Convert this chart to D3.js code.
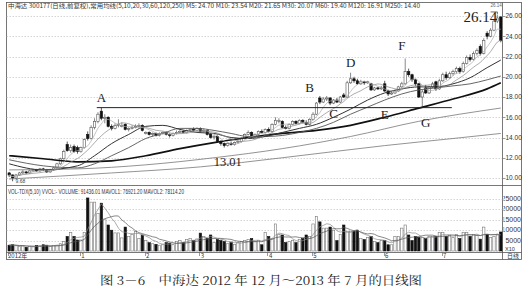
<!DOCTYPE html>
<html>
<head>
<meta charset="utf-8">
<script src="https://cdn.jsdelivr.net/npm/d3@7"></script>
<style>
  body { margin: 0; background: #fff; }
  svg { display: block; }
</style>
</head>
<body>
<div id="chart"></div>
<script>
// 中海达 300177 daily candles, Dec 2012 - Jul 2013
const opens = [
  10.5,10.3,10.0,10.3,10.5,10.6,10.5,10.7,10.8,10.7,
  10.9,10.8,10.6,10.8,11.0,11.4,11.9,13.3,12.7,13.1,
  13.0,12.6,13.0,14.3,13.9,15.0,15.6,16.6,15.9,16.0,
  15.1,14.9,15.2,15.1,15.3,14.8,14.9,15.0,15.1,15.2,
  14.4,14.5,14.3,14.4,14.2,14.4,14.5,14.3,14.2,14.4,
  14.5,14.6,14.5,14.7,14.8,14.7,14.9,14.6,14.7,14.3,
  14.0,14.1,13.6,13.4,13.2,13.4,13.3,13.5,13.6,13.9,
  14.3,14.5,14.1,14.3,14.6,14.5,14.8,14.6,15.3,15.6,
  15.6,15.0,14.9,15.3,15.6,15.4,15.7,15.5,15.3,15.8,
  16.3,17.9,17.5,17.8,17.9,17.4,17.7,17.5,18.2,18.0,
  19.4,19.8,19.6,19.3,19.5,19.4,19.3,18.7,18.9,18.8,
  19.3,18.6,18.3,18.4,18.6,19.0,19.3,20.5,20.2,19.7,
  19.3,18.0,18.9,18.4,19.0,19.5,18.8,19.6,20.2,19.9,
  20.3,20.5,20.8,20.5,21.3,21.9,21.7,22.3,23.0,22.3,
  24.3,24.0,24.6,25.5,25.9
];
const highs = [
  10.6,10.35,10.4,10.6,10.8,10.7,10.8,10.9,10.9,11.0,
  11.0,10.9,10.9,11.1,11.5,12.0,12.8,13.6,13.3,13.3,
  13.2,13.1,13.9,14.6,15.2,15.9,16.5,16.95,16.3,16.1,
  15.3,15.4,15.8,15.5,15.4,15.0,15.2,15.3,15.4,15.3,
  14.6,14.6,14.5,14.5,14.5,14.6,14.6,14.4,14.5,14.7,
  14.8,14.7,14.8,14.9,15.0,15.0,15.0,14.9,14.8,14.4,
  14.3,14.2,13.7,13.5,13.5,13.6,13.6,13.8,14.0,14.4,
  14.7,14.6,14.4,14.7,14.8,14.9,15.0,15.4,16.0,15.9,
  15.7,15.2,15.4,15.7,15.7,15.8,15.8,15.7,15.9,16.5,
  17.5,18.1,18.0,18.1,18.0,17.8,17.9,18.1,18.4,19.6,
  20.4,20.0,19.8,19.7,19.6,19.6,19.4,19.0,19.0,19.1,
  19.6,18.7,18.6,18.7,19.1,19.5,21.8,20.8,20.3,19.8,
  19.4,18.7,19.2,19.1,19.5,19.6,19.8,20.4,20.5,20.5,
  20.7,21.0,21.0,21.5,22.1,22.2,22.5,22.8,23.2,23.8,
  24.5,24.8,25.6,26.14,26.0
];
const lows = [
  10.1,9.68,9.9,10.2,10.4,10.4,10.4,10.6,10.6,10.6,
  10.7,10.5,10.5,10.7,10.9,11.3,11.8,12.6,12.5,12.5,
  12.4,12.5,12.9,13.7,13.8,14.8,15.4,15.7,15.4,15.0,
  14.7,14.8,15.0,15.0,14.7,14.6,14.8,14.9,15.0,14.6,
  14.3,14.2,14.1,14.1,14.1,14.3,14.2,14.0,14.1,14.3,
  14.4,14.4,14.4,14.6,14.6,14.6,14.5,14.5,14.2,13.9,
  13.8,13.5,13.2,13.01,13.1,13.2,13.2,13.4,13.5,13.8,
  14.2,14.0,14.0,14.2,14.4,14.4,14.5,14.5,15.2,15.4,
  14.9,14.8,14.8,15.2,15.3,15.3,15.4,15.2,15.2,15.7,
  16.2,17.3,17.4,17.6,17.2,17.3,17.4,17.4,17.9,17.9,
  19.3,19.4,19.2,19.2,19.2,19.3,18.6,18.6,18.7,18.7,
  18.5,18.1,18.2,18.3,18.5,18.9,19.2,20.0,19.5,19.1,
  17.9,17.0,18.3,18.3,18.9,18.6,18.7,19.5,19.7,19.8,
  20.1,20.3,20.3,20.4,21.2,21.5,21.6,22.1,22.1,22.2,
  23.7,23.9,24.5,25.3,23.4
];
const closes = [
  10.3,10.0,10.3,10.5,10.6,10.5,10.7,10.8,10.7,10.9,
  10.8,10.6,10.8,11.0,11.4,11.9,12.6,12.7,13.0,12.6,
  12.6,13.0,13.8,13.9,15.0,15.6,16.3,15.9,16.0,15.1,
  14.9,15.2,15.3,15.2,14.8,14.9,15.0,15.1,15.2,14.7,
  14.5,14.3,14.4,14.2,14.4,14.5,14.3,14.2,14.4,14.5,
  14.6,14.5,14.7,14.8,14.7,14.9,14.6,14.7,14.3,14.0,
  14.1,13.6,13.4,13.2,13.4,13.3,13.5,13.6,13.9,14.3,
  14.5,14.1,14.3,14.6,14.5,14.8,14.6,15.3,15.7,15.7,
  15.0,14.9,15.3,15.6,15.4,15.7,15.5,15.3,15.8,16.3,
  17.4,17.5,17.8,17.9,17.4,17.7,17.5,18.0,18.0,19.4,
  19.8,19.6,19.3,19.5,19.4,19.5,18.7,18.9,18.8,18.9,
  18.6,18.3,18.4,18.6,19.0,19.3,20.5,20.2,19.7,19.3,
  18.0,18.5,18.4,19.0,19.3,18.8,19.6,20.2,19.9,20.3,
  20.5,20.8,20.5,21.3,21.9,21.7,22.3,22.6,22.3,23.6,
  24.0,24.6,25.5,25.8,23.6
];
const volumes = [
  28000,30000,25000,22000,24000,18000,22000,20000,26000,24000,
  30000,28000,22000,26000,28000,35000,45000,70000,88000,70000,
  53000,53000,90000,255000,235000,235000,180000,230000,150000,125000,
  100000,87000,87000,63000,115000,70000,80000,95000,60000,77000,
  50000,40000,35000,32000,28000,30000,40000,38000,30000,45000,
  50000,42000,55000,60000,50000,58000,86000,70000,60000,77000,
  40000,55000,50000,45000,35000,40000,32000,40000,45000,50000,
  55000,60000,45000,50000,30000,90000,70000,60000,130000,80000,
  77000,40000,45000,50000,40000,55000,60000,77000,70000,130000,
  165000,140000,110000,110000,115000,100000,50000,80000,125000,95000,
  95000,95000,100000,60000,55000,65000,70000,45000,40000,50000,
  50000,30000,30000,70000,70000,110000,125000,77000,50000,70000,
  65000,65000,60000,70000,70000,70000,90000,90000,70000,75000,
  65000,80000,60000,90000,90000,70000,80000,75000,57000,115000,
  80000,65000,70000,78000,91436
];

// longer moving averages at a few days
const ma20Idx = [0,10,20,25,30,35,40,45,50,55,60,65,70,75,80,85,90,95,100,105,110,115,120,125,130,135,140,144];
const ma20Val = [11.4,10.8,11.2,12.2,13.4,14.3,15.1,15.2,14.8,14.5,14.4,14.0,13.9,14.1,14.5,14.9,15.3,16.0,16.8,17.7,18.4,18.8,19.0,19.0,19.3,19.9,20.9,21.65];
const ma30Val = [11.8,11.2,11.0,11.4,12.2,13.0,13.9,14.4,14.9,14.9,14.7,14.4,14.1,14.1,14.2,14.5,14.9,15.5,16.3,17.0,17.7,18.3,18.7,18.9,19.1,19.3,19.7,20.07];
const ma60Idx = [0,10,20,30,40,50,60,70,80,90,100,110,120,130,140,144];
const ma60Val = [12.2,11.9,11.6,11.7,12.2,12.9,13.5,14.0,14.4,14.7,15.2,16.0,16.9,17.8,18.8,19.4];
const ma120Idx = [0,20,40,60,80,100,120,144];
const ma120Val = [10.8,10.9,11.3,12.0,12.9,14.1,15.6,16.91];
const ma250Idx = [0,30,56,80,110,130,144];
const ma250Val = [9.9,10.5,11.1,12.0,13.2,13.9,14.4];

const priceTicks = [10,12,14,16,18,20,22,24,26];
const volTicks = [50000,100000,150000,200000,250000];
const monthStart = [0,21,40,56,76,89,110,127];
const monthLabels = ["2012年","1","2","3","4","5","6","7"];

const markText = ["A","B","C","D","E","F","G"];
const markIdx = [27,88,95,100,110,115,122];
const markPrice = [18.0,18.9,16.42,21.46,16.32,23.14,15.53];

const headerText = "中海达 300177(日线,前复权),常用均线(5,10,20,30,60,120,250) M5: 24.70 M10: 23.54 M20: 21.65 M30: 20.07 M60: 19.40 M120: 16.91 M250: 14.40";
const volHeader = "VOL-TDX(5,10) VVOL:- VOLUME: 91436.01 MAVOL1: 76921.20 MAVOL2: 78114.20";
const caption = "图 3－6　中海达 2012 年 12 月～2013 年 7 月的日线图";

const width = 526, height = 294;
const N = closes.length;
const frameL = 6.5, frameR = 521.5, axisX = 502.5;

const svg = d3.select("#chart").append("svg")
  .attr("width", width).attr("height", height)
  .style("font-family", "'Liberation Sans', Arial, sans-serif");

const x = d3.scaleBand().domain(d3.range(N)).range([8, 502]).paddingInner(0.3);
const bw = x.bandwidth();
const cx = i => x(i) + bw / 2;
const y = d3.scaleLinear().domain([10, 26]).range([178, 16]);
const yv = d3.scaleLinear().domain([0, 250000]).range([251, 199]);

const defs = svg.append("defs");
defs.append("clipPath").attr("id", "clipMain")
  .append("rect").attr("x", 7).attr("y", 10).attr("width", 495).attr("height", 175);
defs.append("clipPath").attr("id", "clipVolAxis")
  .append("rect").attr("x", 503.5).attr("y", 190).attr("width", 18).attr("height", 62);

// frame
svg.append("rect").attr("x", frameL).attr("y", 2.5).attr("width", frameR - frameL).attr("height", 257)
  .attr("fill", "none").attr("stroke", "#555").attr("stroke-width", 0.8);
svg.append("line").attr("x1", axisX).attr("x2", axisX).attr("y1", 2.5).attr("y2", 259.5)
  .attr("stroke", "#555").attr("stroke-width", 0.8);
[185.5, 252.5].forEach(yy => {
  svg.append("line").attr("x1", frameL).attr("x2", frameR).attr("y1", yy).attr("y2", yy)
    .attr("stroke", "#555").attr("stroke-width", 0.8);
});

// headers
svg.append("text").attr("x", 8).attr("y", 8).attr("font-size", 6)
  .attr("fill", "#333").attr("textLength", 412).attr("lengthAdjust", "spacingAndGlyphs")
  .style("font-family", "'Noto Sans CJK SC', sans-serif").text(headerText);
svg.append("text").attr("x", 8).attr("y", 194).attr("font-size", 6.3)
  .attr("fill", "#333").attr("textLength", 176).attr("lengthAdjust", "spacingAndGlyphs")
  .text(volHeader);

// price grid + labels
svg.append("g").selectAll("line").data(priceTicks).join("line")
  .attr("x1", frameL).attr("x2", axisX)
  .attr("y1", d => Math.round(y(d)) + 0.5).attr("y2", d => Math.round(y(d)) + 0.5)
  .attr("stroke", "#bbb").attr("stroke-width", 0.6).attr("stroke-dasharray", "1.5,1.5");
svg.append("g").selectAll("line").data(priceTicks).join("line")
  .attr("x1", axisX).attr("x2", axisX + 3)
  .attr("y1", d => Math.round(y(d)) + 0.5).attr("y2", d => Math.round(y(d)) + 0.5)
  .attr("stroke", "#555").attr("stroke-width", 0.6);
svg.append("g").selectAll("text").data(priceTicks).join("text")
  .attr("x", 505.5).attr("y", d => y(d)).attr("dy", "0.35em")
  .attr("font-size", 6.5).attr("fill", "#333")
  .text(d => d.toFixed(2));

// volume grid + labels (leading digit hidden behind the axis, as in the source)
svg.append("g").selectAll("line").data(volTicks).join("line")
  .attr("x1", frameL).attr("x2", axisX)
  .attr("y1", d => Math.round(yv(d)) + 0.5).attr("y2", d => Math.round(yv(d)) + 0.5)
  .attr("stroke", "#bbb").attr("stroke-width", 0.6).attr("stroke-dasharray", "1.5,1.5");
const volLab = svg.append("g").attr("clip-path", "url(#clipVolAxis)");
volLab.selectAll("text").data(volTicks).join("text")
  .attr("x", 521).attr("y", d => yv(d) - 0.5).attr("dy", "0.35em").attr("text-anchor", "end")
  .attr("font-size", 7).attr("fill", "#333")
  .text(d => d / 10);
svg.append("text").attr("x", 505).attr("y", 251).attr("font-size", 5.5).attr("fill", "#333").text("X10");

// candles
const main = svg.append("g").attr("clip-path", "url(#clipMain)");
const idx = d3.range(N);
const up = i => closes[i] >= opens[i];
main.append("g").selectAll("line").data(idx).join("line")
  .attr("x1", i => cx(i)).attr("x2", i => cx(i))
  .attr("y1", i => y(highs[i])).attr("y2", i => y(lows[i]))
  .attr("stroke", i => up(i) ? "#555" : "#111").attr("stroke-width", 0.7);
main.append("g").selectAll("rect").data(idx).join("rect")
  .attr("x", i => x(i)).attr("width", bw)
  .attr("y", i => y(Math.max(opens[i], closes[i])))
  .attr("height", i => Math.max(0.8, Math.abs(y(opens[i]) - y(closes[i]))))
  .attr("fill", i => up(i) ? "#fff" : "#111")
  .attr("stroke", i => up(i) ? "#555" : "#111").attr("stroke-width", 0.6);

// moving averages
function movingAvg(arr, n) {
  return arr.map((_, i) => d3.mean(arr.slice(Math.max(0, i - n + 1), i + 1)));
}
const ma5 = movingAvg(closes, 5);
const ma10 = movingAvg(closes, 10);
const lineGen = d3.line().x(d => cx(d[0])).y(d => y(d[1])).curve(d3.curveMonotoneX);
const maSeries = [
  { pts: ma250Idx.map((k, j) => [k, ma250Val[j]]), color: "#777", w: 0.8 },
  { pts: ma120Idx.map((k, j) => [k, ma120Val[j]]), color: "#777", w: 0.8 },
  { pts: ma60Idx.map((k, j) => [k, ma60Val[j]]), color: "#111", w: 1.7 },
  { pts: ma20Idx.map((k, j) => [k, ma30Val[j]]), color: "#555", w: 0.9 },
  { pts: ma20Idx.map((k, j) => [k, ma20Val[j]]), color: "#333", w: 1.0 },
  { pts: idx.map(i => [i, ma10[i]]), color: "#888", w: 0.7 },
  { pts: idx.map(i => [i, ma5[i]]), color: "#aaa", w: 0.7 }
];
main.append("g").selectAll("path").data(maSeries).join("path")
  .attr("d", d => lineGen(d.pts))
  .attr("fill", "none").attr("stroke", d => d.color).attr("stroke-width", d => d.w);

// horizontal resistance line from A's high
main.append("line")
  .attr("x1", x(26)).attr("x2", x(130))
  .attr("y1", y(highs[27])).attr("y2", y(highs[27]))
  .attr("stroke", "#222").attr("stroke-width", 1);

// annotations
const serif = "'Liberation Serif', 'DejaVu Serif', serif";
svg.append("g").selectAll("text").data(markText).join("text")
  .attr("x", (d, j) => cx(markIdx[j])).attr("y", (d, j) => y(markPrice[j]))
  .attr("dy", "0.35em").attr("text-anchor", "middle")
  .attr("font-size", 13).attr("fill", "#222").style("font-family", serif)
  .text(d => d);
svg.append("text").attr("x", cx(64)).attr("y", y(11.58)).attr("dy", "0.35em")
  .attr("text-anchor", "middle").attr("font-size", 12.5).attr("fill", "#222")
  .style("font-family", serif).text("13.01");
svg.append("text").attr("x", cx(138)).attr("y", y(25.9)).attr("dy", "0.35em")
  .attr("text-anchor", "middle").attr("font-size", 15).attr("fill", "#222")
  .style("font-family", serif).text("26.14");
svg.append("path")
  .attr("d", `M${cx(141)},${y(26.4)}H${cx(143)}V${y(highs[143]) - 0.5}`)
  .attr("fill", "none").attr("stroke", "#333").attr("stroke-width", 0.7);
svg.append("text").attr("x", cx(141)).attr("y", 7).attr("font-size", 4.5).attr("fill", "#666").text("26.14");
svg.append("text").attr("x", cx(1) + 3).attr("y", y(9.68) + 1.5).attr("font-size", 5).attr("fill", "#444").text("9.68");

// volume bars
const vol = svg.append("g");
vol.selectAll("rect").data(idx).join("rect")
  .attr("x", i => x(i)).attr("width", bw)
  .attr("y", i => yv(volumes[i]))
  .attr("height", i => yv(0) - yv(volumes[i]))
  .attr("fill", i => up(i) ? "#fff" : "#111")
  .attr("stroke", i => up(i) ? "#777" : "#111").attr("stroke-width", 0.6);
const mv1 = movingAvg(volumes, 5);
const mv2 = movingAvg(volumes, 10);
const vLine = d3.line().x(d => cx(d[0])).y(d => yv(d[1]));
[[mv1, "#888"], [mv2, "#555"]].forEach(([arr, c]) => {
  vol.append("path").attr("d", vLine(idx.map(i => [i, arr[i]])))
    .attr("fill", "none").attr("stroke", c).attr("stroke-width", 0.7);
});

// month axis
const axisG = svg.append("g");
axisG.selectAll("line").data(monthStart).join("line")
  .attr("x1", i => Math.round(x(i)) + 0.5).attr("x2", i => Math.round(x(i)) + 0.5)
  .attr("y1", 252.5).attr("y2", 256)
  .attr("stroke", "#555").attr("stroke-width", 0.6);
axisG.selectAll("text").data(monthStart).join("text")
  .attr("x", (i, j) => j === 0 ? 8 : x(i) + 1.5).attr("y", 258.2)
  .attr("font-size", 6).attr("fill", "#333")
  .style("font-family", "'Noto Sans CJK SC', sans-serif")
  .text((d, j) => monthLabels[j]);
svg.append("text").attr("x", 507).attr("y", 258.2).attr("font-size", 6).attr("fill", "#333")
  .style("font-family", "'Noto Sans CJK SC', sans-serif").text("日线");

// caption
svg.append("text").attr("x", 100).attr("y", 285)
  .attr("font-size", 12).attr("fill", "#222")
  .attr("textLength", 322).attr("lengthAdjust", "spacingAndGlyphs")
  .style("font-family", "'Noto Serif CJK SC', 'Noto Sans CJK SC', serif")
  .text(caption);
</script>
</body>
</html>
